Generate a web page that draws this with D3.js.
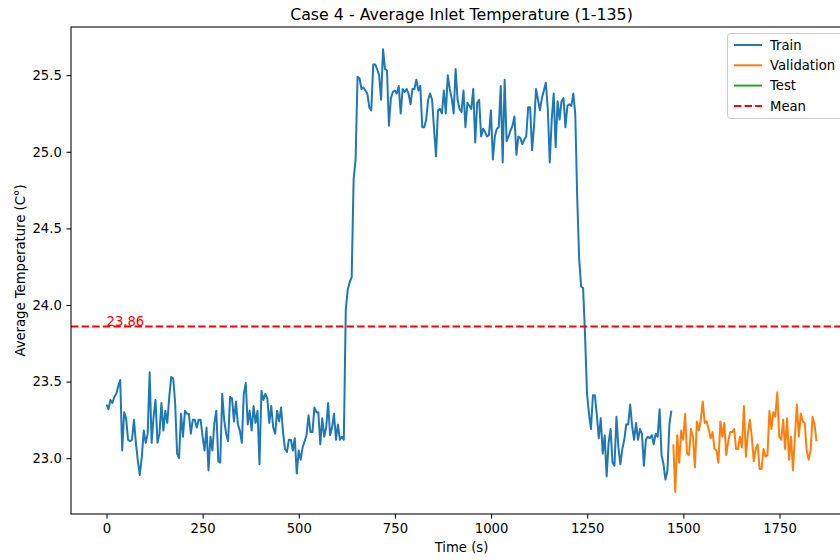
<!DOCTYPE html>
<html><head><meta charset="utf-8">
<script src="https://cdn.jsdelivr.net/npm/d3@7"></script>
<style>body{margin:0;background:#fff} svg{display:block;font-family:"DejaVu Sans",sans-serif}</style>
</head><body><svg id="c" width="840" height="560"></svg>
<script>
// sampling interval in seconds
const timeStep = 5.1;
const trainValues = [
23.35,23.32,23.38,23.36,23.40,23.42,23.47,23.51,23.05,23.30,
23.26,23.12,23.11,23.12,23.25,23.10,22.98,22.89,23.01,23.18,
23.10,23.16,23.56,23.10,23.27,23.38,23.10,23.16,23.36,23.18,
23.31,23.23,23.40,23.53,23.52,23.36,23.03,23.00,23.29,23.14,
23.31,23.29,23.29,23.16,23.25,23.25,23.20,23.25,23.25,23.14,
23.05,23.20,22.92,23.14,23.05,23.23,23.31,22.98,22.97,
23.42,23.25,23.16,23.11,23.40,23.39,23.24,23.37,23.22,23.18,
23.10,23.42,23.49,23.22,23.31,23.18,23.34,23.23,23.31,22.96,
23.44,23.38,23.42,23.39,23.23,23.34,23.20,23.16,23.31,23.24,
23.33,23.17,23.06,23.04,23.12,23.12,23.05,23.13,22.90,23.05,
22.99,23.07,23.11,23.15,23.28,23.17,23.17,23.33,23.30,23.30,
23.09,23.26,23.14,23.20,23.36,23.15,23.20,23.29,23.12,23.22,
23.12,23.14,23.12,
23.97,24.10,24.15,24.18,24.82,24.95,
25.49,25.48,25.41,25.42,25.40,25.38,25.29,25.27,25.57,25.57,
25.54,25.50,25.34,25.67,25.54,25.53,25.17,25.35,25.39,25.40,
25.38,25.43,25.25,25.41,25.39,25.41,25.38,25.31,25.41,25.41,
25.47,25.40,25.43,25.16,25.16,25.21,25.34,25.38,25.34,25.15,
24.97,25.27,25.28,25.25,25.40,25.25,25.50,25.41,25.35,25.25,
25.54,25.34,25.28,25.26,25.40,25.16,25.32,25.30,25.28,25.41,
25.06,25.32,25.34,
25.10,25.15,25.13,25.10,25.11,25.27,24.95,25.10,25.15,25.16,
25.43,24.93,25.47,25.07,25.10,25.14,25.17,25.23,24.98,25.10,
25.09,25.05,25.08,25.10,25.29,25.29,25.01,25.17,25.41,25.34,
25.27,25.35,25.40,25.45,25.28,24.93,25.21,25.38,25.03,25.33,
25.21,25.33,25.35,25.16,25.30,25.31,25.30,25.38,25.25,
24.70,24.30,24.12,24.11,23.80,
23.42,23.29,23.19,23.41,23.41,23.28,23.13,23.26,23.03,23.15,
22.88,23.10,23.19,22.97,22.95,23.27,23.07,22.96,23.06,23.12,
23.22,23.22,23.35,23.21,23.12,23.23,23.12,23.19,23.16,22.95,
23.12,23.14,23.13,23.15,23.09,23.16,23.14,23.32,23.02,22.96,
22.86,22.92,23.22,23.31
];
const validationValues = [
23.09,22.78,23.15,22.97,23.18,23.12,23.29,23.03,23.02,23.19,
23.14,22.94,23.24,23.18,23.25,23.37,23.23,23.24,23.19,23.13,
23.17,23.06,23.05,22.97,23.24,23.14,23.23,23.02,23.11,23.17,
23.17,23.19,23.06,23.06,23.14,23.07,23.34,23.01,23.16,23.25,
23.14,
22.98,23.06,23.09,22.93,22.93,23.06,23.01,23.02,23.31,23.19,
23.30,23.27,23.43,23.14,23.12,23.25,23.06,23.26,22.99,23.14,
22.92,23.14,23.35,23.14,23.29,23.24,23.23,23.05,22.99,23.05,
23.27,23.22,23.11
];
const testValues = [];
const meanValue = 23.86;
const xTicks = [0, 250, 500, 750, 1000, 1250, 1500, 1750];
const yTicks = [23.0, 23.5, 24.0, 24.5, 25.0, 25.5];
const seriesNames = ["Train", "Validation", "Test", "Mean"];
const seriesColors = ["#1f77b4", "#ff7f0e", "#2ca02c", "#ff0000"];
const titleText = "Case 4 - Average Inlet Temperature (1-135)";
const xLabel = "Time (s)";
const yLabel = "Average Temperature (C°)";

const trainData = trainValues.map((v, i) => ({t: i * timeStep, v}));
const valData = validationValues.map((v, i) => ({t: (trainValues.length + i) * timeStep, v}));
const testData = testValues.map((v, i) => ({t: (trainValues.length + validationValues.length + i) * timeStep, v}));
const all = trainData.concat(valData, testData);

const L = 71, R = 852, T = 27, B = 514;
const svg = d3.select("#c");
const tExt = d3.extent(all, d => d.t), vExt = d3.extent(all, d => d.v);
const tPad = (tExt[1] - tExt[0]) * 0.05, vPad = (vExt[1] - vExt[0]) * 0.05;
const x = d3.scaleLinear().domain([tExt[0] - tPad, tExt[1] + tPad]).range([L, R]);
const y = d3.scaleLinear().domain([vExt[0] - vPad, vExt[1] + vPad]).range([B, T]);

const fs = 13.2;
const gx = svg.append("g").attr("transform", `translate(0,${B})`)
  .call(d3.axisBottom(x).tickValues(xTicks).tickFormat(d3.format("d")).tickSizeOuter(0).tickSize(4.6).tickPadding(4.6));
const gy = svg.append("g").attr("transform", `translate(${L},0)`)
  .call(d3.axisLeft(y).tickValues(yTicks).tickFormat(d3.format(".1f")).tickSizeOuter(0).tickSize(4.6).tickPadding(4.6));
[gx, gy].forEach(g => {
  g.select(".domain").remove();
  g.selectAll("line").attr("stroke", "#000").attr("stroke-width", 1.05);
  g.selectAll("text").attr("font-size", fs).attr("font-family", "DejaVu Sans").attr("fill", "#000");
});

const clip = svg.append("clipPath").attr("id", "pc").append("rect")
  .attr("x", L).attr("y", T).attr("width", R - L).attr("height", B - T);
const plot = svg.append("g").attr("clip-path", "url(#pc)");
const line = d3.line().x(d => x(d.t)).y(d => y(d.v));
[[trainData, 0], [valData, 1], [testData, 2]].forEach(([d, i]) => {
  if (d.length) plot.append("path").datum(d).attr("d", line).attr("fill", "none")
    .attr("stroke", seriesColors[i]).attr("stroke-width", 2).attr("stroke-linejoin", "round");
});
plot.append("line").attr("x1", L).attr("x2", R).attr("y1", y(meanValue)).attr("y2", y(meanValue))
  .attr("stroke", seriesColors[3]).attr("stroke-width", 2).attr("stroke-dasharray", "7.4,3.2");
svg.append("text").attr("x", x(0)).attr("y", y(meanValue) - 0.5).attr("font-size", fs)
  .attr("fill", seriesColors[3]).text(meanValue.toFixed(2));

svg.append("rect").attr("x", L).attr("y", T).attr("width", R - L).attr("height", B - T)
  .attr("fill", "none").attr("stroke", "#000").attr("stroke-width", 1.05);

svg.append("text").attr("x", (L + R) / 2).attr("y", 20).attr("text-anchor", "middle")
  .attr("font-size", 15.8).text(titleText);
svg.append("text").attr("x", (L + R) / 2).attr("y", 552).attr("text-anchor", "middle")
  .attr("font-size", fs).text(xLabel);
svg.append("text").attr("transform", `translate(25,${(T + B) / 2}) rotate(-90)`).attr("text-anchor", "middle")
  .attr("font-size", fs).text(yLabel);

const lg = svg.append("g");
lg.append("rect").attr("x", 727.5).attr("y", 33.5).attr("width", 122).attr("height", 85).attr("rx", 3)
  .attr("fill", "#fff").attr("fill-opacity", 0.8).attr("stroke", "#cccccc").attr("stroke-width", 1);
seriesNames.forEach((n, i) => {
  const yy = 45 + i * 20.3;
  lg.append("line").attr("x1", 734).attr("x2", 762).attr("y1", yy).attr("y2", yy)
    .attr("stroke", seriesColors[i]).attr("stroke-width", 2)
    .attr("stroke-dasharray", i === 3 ? "7.4,3.2" : null);
  lg.append("text").attr("x", 770).attr("y", yy + 4.7).attr("font-size", fs).text(n);
});
</script></body></html>
